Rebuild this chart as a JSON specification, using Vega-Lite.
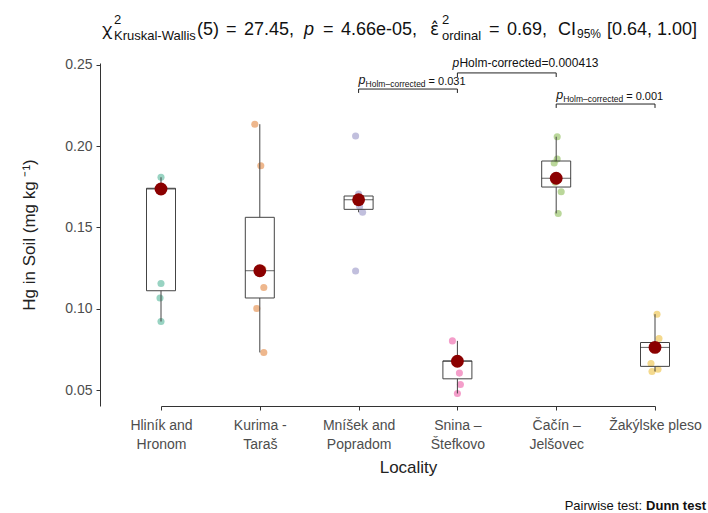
{
  "$schema": "https://vega.github.io/schema/vega-lite/v6.json",
  "width": 608,
  "height": 343,
  "autosize": {"type": "none"},
  "padding": {"left": 100, "top": 63, "right": 0, "bottom": 107},
  "background": "white",
  "config": {"view": {"stroke": null}, "font": "Liberation Sans", "text": {"font": "Liberation Sans"}},
  "datasets": {
    "soil": [
      {"locality": "Hliník and Hronom", "hg": 0.1808, "jitter": 0.0},
      {"locality": "Hliník and Hronom", "hg": 0.1736, "jitter": 0.2},
      {"locality": "Hliník and Hronom", "hg": 0.1740, "jitter": -0.2},
      {"locality": "Hliník and Hronom", "hg": 0.1741, "jitter": 0.1},
      {"locality": "Hliník and Hronom", "hg": 0.1156, "jitter": 0.0},
      {"locality": "Hliník and Hronom", "hg": 0.1066, "jitter": -0.1},
      {"locality": "Hliník and Hronom", "hg": 0.0922, "jitter": 0.0},
      {"locality": "Kurima - Taraš", "hg": 0.2134, "jitter": -0.5},
      {"locality": "Kurima - Taraš", "hg": 0.1879, "jitter": 0.1},
      {"locality": "Kurima - Taraš", "hg": 0.1245, "jitter": 0.3},
      {"locality": "Kurima - Taraš", "hg": 0.1234, "jitter": -0.2},
      {"locality": "Kurima - Taraš", "hg": 0.1131, "jitter": 0.4},
      {"locality": "Kurima - Taraš", "hg": 0.1002, "jitter": -0.3},
      {"locality": "Kurima - Taraš", "hg": 0.0732, "jitter": 0.4},
      {"locality": "Mníšek and Popradom", "hg": 0.2062, "jitter": -0.3},
      {"locality": "Mníšek and Popradom", "hg": 0.1705, "jitter": 0.0},
      {"locality": "Mníšek and Popradom", "hg": 0.1681, "jitter": 0.2},
      {"locality": "Mníšek and Popradom", "hg": 0.1670, "jitter": -0.1},
      {"locality": "Mníšek and Popradom", "hg": 0.1629, "jitter": 0.1},
      {"locality": "Mníšek and Popradom", "hg": 0.1593, "jitter": 0.4},
      {"locality": "Mníšek and Popradom", "hg": 0.1232, "jitter": -0.3},
      {"locality": "Snina – Štefkovo", "hg": 0.0803, "jitter": -0.5},
      {"locality": "Snina – Štefkovo", "hg": 0.0681, "jitter": 0.1},
      {"locality": "Snina – Štefkovo", "hg": 0.0679, "jitter": -0.1},
      {"locality": "Snina – Štefkovo", "hg": 0.0678, "jitter": 0.0},
      {"locality": "Snina – Štefkovo", "hg": 0.0605, "jitter": 0.2},
      {"locality": "Snina – Štefkovo", "hg": 0.0535, "jitter": 0.3},
      {"locality": "Snina – Štefkovo", "hg": 0.0480, "jitter": 0.0},
      {"locality": "Čačín – Jelšovec", "hg": 0.2057, "jitter": 0.1},
      {"locality": "Čačín – Jelšovec", "hg": 0.1920, "jitter": 0.1},
      {"locality": "Čačín – Jelšovec", "hg": 0.1896, "jitter": -0.2},
      {"locality": "Čačín – Jelšovec", "hg": 0.1802, "jitter": 0.0},
      {"locality": "Čačín – Jelšovec", "hg": 0.1777, "jitter": -0.1},
      {"locality": "Čačín – Jelšovec", "hg": 0.1719, "jitter": 0.5},
      {"locality": "Čačín – Jelšovec", "hg": 0.1586, "jitter": 0.2},
      {"locality": "Žakýlske pleso", "hg": 0.0967, "jitter": 0.2},
      {"locality": "Žakýlske pleso", "hg": 0.0818, "jitter": 0.4},
      {"locality": "Žakýlske pleso", "hg": 0.0768, "jitter": -0.1},
      {"locality": "Žakýlske pleso", "hg": 0.0763, "jitter": 0.1},
      {"locality": "Žakýlske pleso", "hg": 0.0664, "jitter": -0.4},
      {"locality": "Žakýlske pleso", "hg": 0.0629, "jitter": 0.3},
      {"locality": "Žakýlske pleso", "hg": 0.0615, "jitter": -0.3}
    ],
    "sig": [
      {"from": "Mníšek and Popradom", "to": "Snina – Štefkovo", "y": 0.2350, "tick_end": 0.2326, "sub": "Holm–corrected", "value": "= 0.031"},
      {"from": "Snina – Štefkovo", "to": "Čačín – Jelšovec", "y": 0.2449, "tick_end": 0.2424, "sub": "", "value": "Holm-corrected=0.000413"},
      {"from": "Čačín – Jelšovec", "to": "Žakýlske pleso", "y": 0.2258, "tick_end": 0.2234, "sub": "Holm–corrected", "value": "= 0.001"}
    ]
  },
  "layer": [
    {
      "data": {"name": "soil"},
      "mark": {"type": "circle", "size": 50, "opacity": 0.45},
      "encoding": {
        "x": {
          "field": "locality", "type": "nominal", "title": "Locality",
          "scale": {"type": "point", "domain": ["Hliník and Hronom", "Kurima - Taraš", "Mníšek and Popradom", "Snina – Štefkovo", "Čačín – Jelšovec", "Žakýlske pleso"], "range": [61, 555], "padding": 0},
          "axis": {
            "labelExpr": "datum.value == 'Žakýlske pleso' ? datum.value : [substring(datum.value, 0, lastindexof(datum.value, ' ')), substring(datum.value, lastindexof(datum.value, ' ') + 1)]",
            "labelAngle": 0, "labelFontSize": 14, "labelColor": "#4d4d4d", "labelPadding": 8, "labelLineHeight": 19, "labelBaseline": "top", "labelLimit": 0,
            "tickSize": 4, "tickColor": "#333", "domainColor": "#333",
            "titleFontSize": 17, "titleFontWeight": "normal", "titleColor": "#222", "titlePadding": 8
          }
        },
        "y": {
          "field": "hg", "type": "quantitative", "title": "Hg in Soil (mg kg ⁻¹)",
          "scale": {"domain": [0.0403, 0.251], "nice": false, "zero": false},
          "axis": {
            "values": [0.05, 0.10, 0.15, 0.20, 0.25], "format": ".2f", "grid": false,
            "labelFontSize": 14, "labelColor": "#4d4d4d", "labelPadding": 4,
            "tickSize": 4, "tickColor": "#333", "domainColor": "#333",
            "titleFontSize": 17, "titleFontWeight": "normal", "titleColor": "#222", "titlePadding": 26
          }
        },
        "xOffset": {"field": "jitter", "type": "quantitative", "scale": {"domain": [-1, 1], "range": [-10, 10]}},
        "color": {"field": "locality", "type": "nominal", "legend": null,
          "scale": {"domain": ["Hliník and Hronom", "Kurima - Taraš", "Mníšek and Popradom", "Snina – Štefkovo", "Čačín – Jelšovec", "Žakýlske pleso"], "range": ["#1B9E77", "#D95F02", "#7570B3", "#E7298A", "#66A61E", "#E6AB02"]}}
      }
    },
    {
      "data": {"name": "soil"},
      "mark": {"type": "boxplot", "extent": 1.5, "size": 29, "outliers": false, "ticks": false,
        "box": {"fill": "white", "fillOpacity": 0, "stroke": "#444", "strokeWidth": 1},
        "median": {"color": "#222", "strokeWidth": 2},
        "rule": {"color": "#444", "strokeWidth": 1}},
      "encoding": {
        "x": {"field": "locality", "type": "nominal", "title": "Locality"},
        "y": {"field": "hg", "type": "quantitative", "title": "Hg in Soil (mg kg ⁻¹)"}
      }
    },
    {
      "data": {"name": "soil"},
      "mark": {"type": "circle", "size": 165, "opacity": 1, "color": "#8B0000"},
      "encoding": {
        "x": {"field": "locality", "type": "nominal", "title": "Locality"},
        "y": {"aggregate": "median", "field": "hg", "type": "quantitative", "title": "Hg in Soil (mg kg ⁻¹)"}
      }
    },
    {
      "data": {"name": "sig"},
      "mark": {"type": "rule", "color": "#222", "strokeWidth": 1},
      "encoding": {
        "x": {"field": "from", "type": "nominal", "title": "Locality"},
        "x2": {"field": "to"},
        "y": {"field": "y", "type": "quantitative", "title": "Hg in Soil (mg kg ⁻¹)"}
      }
    },
    {
      "data": {"name": "sig"},
      "mark": {"type": "rule", "color": "#222", "strokeWidth": 1},
      "encoding": {
        "x": {"field": "from", "type": "nominal", "title": "Locality"},
        "y": {"field": "y", "type": "quantitative", "title": "Hg in Soil (mg kg ⁻¹)"},
        "y2": {"field": "tick_end"}
      }
    },
    {
      "data": {"name": "sig"},
      "mark": {"type": "rule", "color": "#222", "strokeWidth": 1},
      "encoding": {
        "x": {"field": "to", "type": "nominal", "title": "Locality"},
        "y": {"field": "y", "type": "quantitative", "title": "Hg in Soil (mg kg ⁻¹)"},
        "y2": {"field": "tick_end"}
      }
    },
    {
      "data": {"name": "sig"},
      "transform": [{"filter": "datum.sub != ''"}],
      "mark": {"type": "text", "text": "p", "fontStyle": "italic", "fontSize": 12.5, "align": "left", "baseline": "alphabetic", "dx": 0, "dy": -5, "color": "#111"},
      "encoding": {
        "x": {"field": "from", "type": "nominal", "title": "Locality"},
        "y": {"field": "y", "type": "quantitative", "title": "Hg in Soil (mg kg ⁻¹)"}
      }
    },
    {
      "data": {"name": "sig"},
      "transform": [{"filter": "datum.sub != ''"}],
      "mark": {"type": "text", "fontSize": 8.5, "align": "left", "baseline": "alphabetic", "dx": 7, "dy": -2, "color": "#111"},
      "encoding": {
        "x": {"field": "from", "type": "nominal", "title": "Locality"},
        "y": {"field": "y", "type": "quantitative", "title": "Hg in Soil (mg kg ⁻¹)"},
        "text": {"field": "sub"}
      }
    },
    {
      "data": {"name": "sig"},
      "transform": [{"filter": "datum.sub != ''"}],
      "mark": {"type": "text", "fontSize": 11, "align": "left", "baseline": "alphabetic", "dx": 70, "dy": -4, "color": "#111"},
      "encoding": {
        "x": {"field": "from", "type": "nominal", "title": "Locality"},
        "y": {"field": "y", "type": "quantitative", "title": "Hg in Soil (mg kg ⁻¹)"},
        "text": {"field": "value"}
      }
    },
    {
      "data": {"name": "sig"},
      "transform": [{"filter": "datum.sub == ''"}],
      "mark": {"type": "text", "text": "p", "fontStyle": "italic", "fontSize": 12, "align": "left", "baseline": "alphabetic", "dx": -5, "dy": -6, "color": "#111"},
      "encoding": {
        "x": {"field": "from", "type": "nominal", "title": "Locality"},
        "y": {"field": "y", "type": "quantitative", "title": "Hg in Soil (mg kg ⁻¹)"}
      }
    },
    {
      "data": {"name": "sig"},
      "transform": [{"filter": "datum.sub == ''"}],
      "mark": {"type": "text", "fontSize": 12, "align": "left", "baseline": "alphabetic", "dx": 2, "dy": -6, "color": "#111"},
      "encoding": {
        "x": {"field": "from", "type": "nominal", "title": "Locality"},
        "y": {"field": "y", "type": "quantitative", "title": "Hg in Soil (mg kg ⁻¹)"},
        "text": {"field": "value"}
      }
    },
    {
      "data": {"values": [{"t": "χ"}]},
      "mark": {"type": "text", "font": "Noto Sans", "fontSize": 17, "align": "left", "baseline": "alphabetic", "dx": -59, "dy": 0, "color": "#111"},
      "encoding": {"text": {"field": "t"}, "x": {"datum": "Hliník and Hronom", "type": "nominal", "title": "Locality"}, "y": {"datum": 0.2682, "type": "quantitative", "title": "Hg in Soil (mg kg ⁻¹)"}}
    },
    {
      "data": {"values": [{"t": "2"}]},
      "mark": {"type": "text", "fontSize": 13, "align": "left", "baseline": "alphabetic", "dx": -47, "dy": -11, "color": "#111"},
      "encoding": {"text": {"field": "t"}, "x": {"datum": "Hliník and Hronom", "type": "nominal", "title": "Locality"}, "y": {"datum": 0.2682, "type": "quantitative", "title": "Hg in Soil (mg kg ⁻¹)"}}
    },
    {
      "data": {"values": [{"t": "Kruskal-Wallis"}]},
      "mark": {"type": "text", "fontSize": 13, "align": "left", "baseline": "alphabetic", "dx": -47, "dy": 5, "color": "#111"},
      "encoding": {"text": {"field": "t"}, "x": {"datum": "Hliník and Hronom", "type": "nominal", "title": "Locality"}, "y": {"datum": 0.2682, "type": "quantitative", "title": "Hg in Soil (mg kg ⁻¹)"}}
    },
    {
      "data": {"values": [{"t": "(5)"}]},
      "mark": {"type": "text", "fontSize": 18, "align": "left", "baseline": "alphabetic", "dx": 36, "dy": 0, "color": "#111"},
      "encoding": {"text": {"field": "t"}, "x": {"datum": "Hliník and Hronom", "type": "nominal", "title": "Locality"}, "y": {"datum": 0.2682, "type": "quantitative", "title": "Hg in Soil (mg kg ⁻¹)"}}
    },
    {
      "data": {"values": [{"t": "="}]},
      "mark": {"type": "text", "fontSize": 18, "align": "left", "baseline": "alphabetic", "dx": 65, "dy": 0, "color": "#111"},
      "encoding": {"text": {"field": "t"}, "x": {"datum": "Hliník and Hronom", "type": "nominal", "title": "Locality"}, "y": {"datum": 0.2682, "type": "quantitative", "title": "Hg in Soil (mg kg ⁻¹)"}}
    },
    {
      "data": {"values": [{"t": "27.45,"}]},
      "mark": {"type": "text", "fontSize": 18, "align": "left", "baseline": "alphabetic", "dx": 83, "dy": 0, "color": "#111"},
      "encoding": {"text": {"field": "t"}, "x": {"datum": "Hliník and Hronom", "type": "nominal", "title": "Locality"}, "y": {"datum": 0.2682, "type": "quantitative", "title": "Hg in Soil (mg kg ⁻¹)"}}
    },
    {
      "data": {"values": [{"t": "p"}]},
      "mark": {"type": "text", "fontStyle": "italic", "fontSize": 18, "align": "left", "baseline": "alphabetic", "dx": 143, "dy": 0, "color": "#111"},
      "encoding": {"text": {"field": "t"}, "x": {"datum": "Hliník and Hronom", "type": "nominal", "title": "Locality"}, "y": {"datum": 0.2682, "type": "quantitative", "title": "Hg in Soil (mg kg ⁻¹)"}}
    },
    {
      "data": {"values": [{"t": "="}]},
      "mark": {"type": "text", "fontSize": 18, "align": "left", "baseline": "alphabetic", "dx": 162, "dy": 0, "color": "#111"},
      "encoding": {"text": {"field": "t"}, "x": {"datum": "Hliník and Hronom", "type": "nominal", "title": "Locality"}, "y": {"datum": 0.2682, "type": "quantitative", "title": "Hg in Soil (mg kg ⁻¹)"}}
    },
    {
      "data": {"values": [{"t": "4.66e-05,"}]},
      "mark": {"type": "text", "fontSize": 18, "align": "left", "baseline": "alphabetic", "dx": 180, "dy": 0, "color": "#111"},
      "encoding": {"text": {"field": "t"}, "x": {"datum": "Hliník and Hronom", "type": "nominal", "title": "Locality"}, "y": {"datum": 0.2682, "type": "quantitative", "title": "Hg in Soil (mg kg ⁻¹)"}}
    },
    {
      "data": {"values": [{"t": "ε̂"}]},
      "mark": {"type": "text", "font": "DejaVu Sans", "fontSize": 17, "align": "left", "baseline": "alphabetic", "dx": 269, "dy": 0, "color": "#111"},
      "encoding": {"text": {"field": "t"}, "x": {"datum": "Hliník and Hronom", "type": "nominal", "title": "Locality"}, "y": {"datum": 0.2682, "type": "quantitative", "title": "Hg in Soil (mg kg ⁻¹)"}}
    },
    {
      "data": {"values": [{"t": "2"}]},
      "mark": {"type": "text", "fontSize": 13, "align": "left", "baseline": "alphabetic", "dx": 281, "dy": -11, "color": "#111"},
      "encoding": {"text": {"field": "t"}, "x": {"datum": "Hliník and Hronom", "type": "nominal", "title": "Locality"}, "y": {"datum": 0.2682, "type": "quantitative", "title": "Hg in Soil (mg kg ⁻¹)"}}
    },
    {
      "data": {"values": [{"t": "ordinal"}]},
      "mark": {"type": "text", "fontSize": 13, "align": "left", "baseline": "alphabetic", "dx": 281, "dy": 5, "color": "#111"},
      "encoding": {"text": {"field": "t"}, "x": {"datum": "Hliník and Hronom", "type": "nominal", "title": "Locality"}, "y": {"datum": 0.2682, "type": "quantitative", "title": "Hg in Soil (mg kg ⁻¹)"}}
    },
    {
      "data": {"values": [{"t": "="}]},
      "mark": {"type": "text", "fontSize": 18, "align": "left", "baseline": "alphabetic", "dx": 328, "dy": 0, "color": "#111"},
      "encoding": {"text": {"field": "t"}, "x": {"datum": "Hliník and Hronom", "type": "nominal", "title": "Locality"}, "y": {"datum": 0.2682, "type": "quantitative", "title": "Hg in Soil (mg kg ⁻¹)"}}
    },
    {
      "data": {"values": [{"t": "0.69,"}]},
      "mark": {"type": "text", "fontSize": 18, "align": "left", "baseline": "alphabetic", "dx": 346, "dy": 0, "color": "#111"},
      "encoding": {"text": {"field": "t"}, "x": {"datum": "Hliník and Hronom", "type": "nominal", "title": "Locality"}, "y": {"datum": 0.2682, "type": "quantitative", "title": "Hg in Soil (mg kg ⁻¹)"}}
    },
    {
      "data": {"values": [{"t": "CI"}]},
      "mark": {"type": "text", "fontSize": 18, "align": "left", "baseline": "alphabetic", "dx": 397, "dy": 0, "color": "#111"},
      "encoding": {"text": {"field": "t"}, "x": {"datum": "Hliník and Hronom", "type": "nominal", "title": "Locality"}, "y": {"datum": 0.2682, "type": "quantitative", "title": "Hg in Soil (mg kg ⁻¹)"}}
    },
    {
      "data": {"values": [{"t": "95%"}]},
      "mark": {"type": "text", "fontSize": 12, "align": "left", "baseline": "alphabetic", "dx": 416, "dy": 3, "color": "#111"},
      "encoding": {"text": {"field": "t"}, "x": {"datum": "Hliník and Hronom", "type": "nominal", "title": "Locality"}, "y": {"datum": 0.2682, "type": "quantitative", "title": "Hg in Soil (mg kg ⁻¹)"}}
    },
    {
      "data": {"values": [{"t": "[0.64, 1.00]"}]},
      "mark": {"type": "text", "fontSize": 18, "align": "left", "baseline": "alphabetic", "dx": 446, "dy": 0, "color": "#111"},
      "encoding": {"text": {"field": "t"}, "x": {"datum": "Hliník and Hronom", "type": "nominal", "title": "Locality"}, "y": {"datum": 0.2682, "type": "quantitative", "title": "Hg in Soil (mg kg ⁻¹)"}}
    },
    {
      "data": {"values": [{"t": "Dunn test"}]},
      "mark": {"type": "text", "fontSize": 13, "fontWeight": "bold", "align": "right", "baseline": "alphabetic", "dx": 51, "dy": 0, "color": "#111"},
      "encoding": {"text": {"field": "t"}, "x": {"datum": "Žakýlske pleso", "type": "nominal", "title": "Locality"}, "y": {"datum": -0.0236, "type": "quantitative", "title": "Hg in Soil (mg kg ⁻¹)"}}
    },
    {
      "data": {"values": [{"t": "Pairwise test:"}]},
      "mark": {"type": "text", "fontSize": 13, "align": "right", "baseline": "alphabetic", "dx": -13, "dy": 0, "color": "#111"},
      "encoding": {"text": {"field": "t"}, "x": {"datum": "Žakýlske pleso", "type": "nominal", "title": "Locality"}, "y": {"datum": -0.0236, "type": "quantitative", "title": "Hg in Soil (mg kg ⁻¹)"}}
    }
  ]
}
